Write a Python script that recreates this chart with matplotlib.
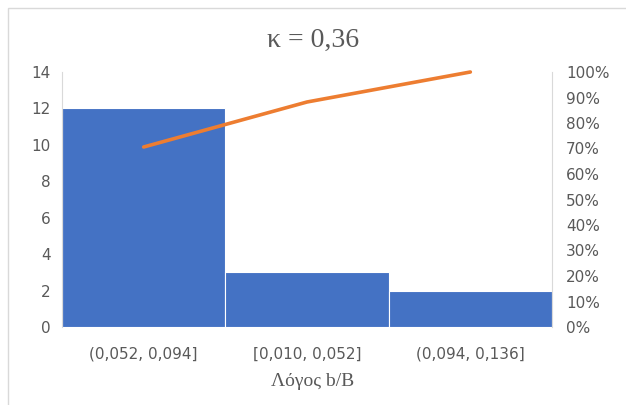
import matplotlib
matplotlib.use("Agg")
import matplotlib.pyplot as plt
from matplotlib.patches import Rectangle
from matplotlib.ticker import PercentFormatter
import numpy as np

# data
categories = ["(0,052, 0,094]", "[0,010, 0,052]", "(0,094, 0,136]"]
counts = [12, 3, 2]
cum_pct = np.cumsum(counts) / np.sum(counts) * 100

BLUE = "#4472C4"
ORANGE = "#ED7D31"
GREY = "#595959"

fig = plt.figure(figsize=(6.26, 4.05), dpi=100)
ax = fig.add_axes([62 / 626, 1 - 327 / 405, (552 - 62) / 626, (327 - 72) / 405])

x = np.arange(len(categories))
ax.bar(x, counts, width=1.0, color=BLUE, edgecolor="white", linewidth=0.8)
ax.set_xlim(-0.5, len(categories) - 0.5)
ax.set_ylim(0, 14)
ax.set_yticks(range(0, 15, 2))
ax.set_xticks(x)
ax.set_xticklabels(categories)
ax.tick_params(axis="both", length=0, colors=GREY, labelsize=11, pad=8)
ax.tick_params(axis="x", pad=14)
for s in ["top", "right", "bottom"]:
    ax.spines[s].set_visible(False)
ax.spines["left"].set_color("#D9D9D9")

ax2 = ax.twinx()
ax2.plot(x, cum_pct, color=ORANGE, linewidth=2.6, solid_capstyle="round", clip_on=False)
ax2.set_ylim(0, 100)
ax2.set_yticks(range(0, 101, 10))
ax2.yaxis.set_major_formatter(PercentFormatter(decimals=0))
ax2.tick_params(axis="y", length=0, colors=GREY, labelsize=11, pad=10)
for s in ["top", "left", "bottom"]:
    ax2.spines[s].set_visible(False)
ax2.spines["right"].set_color("#D9D9D9")

fig.text(0.5, 1 - 40 / 405, "κ = 0,36", ha="center", va="center",
         fontsize=20, family="Liberation Serif", color=GREY)
fig.text(0.5, 1 - 381 / 405, "Λόγος b/B", ha="center", va="center",
         fontsize=14, family="Liberation Serif", color=GREY)

# chart area border (right and bottom edges fall outside the image)
fig.patches.append(Rectangle((8 / 626, -0.05), 1.0, 1.05 - 8 / 405,
                             transform=fig.transFigure, fill=False,
                             edgecolor="#D9D9D9", linewidth=1))

fig.savefig("out.png", dpi=100)
